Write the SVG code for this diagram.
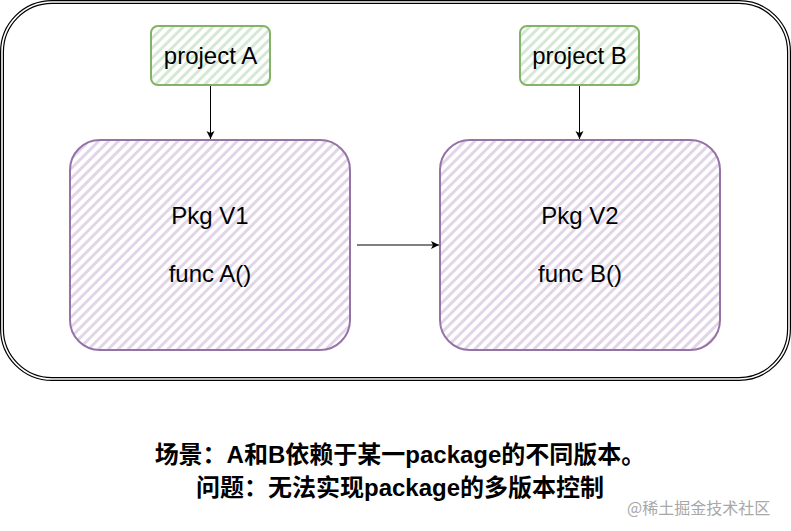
<svg xmlns="http://www.w3.org/2000/svg" width="791" height="531" viewBox="0 0 791 531">
<style>
.lbl{font-family:"Liberation Sans",Arial,sans-serif;font-size:24px;fill:#000;text-anchor:middle}
.cap{font-family:"Liberation Sans","Noto Sans CJK SC",sans-serif;font-size:24px;font-weight:bold;fill:#000;text-anchor:middle}
.wm{font-family:"Noto Sans CJK SC",sans-serif;font-size:16px;fill:#a8a8a8}
.conn{stroke:#000;stroke-width:1;fill:none}
</style>
<defs>
<pattern id="hg" width="7" height="7" patternUnits="userSpaceOnUse" patternTransform="rotate(-45)">
<rect width="7" height="7" fill="#fff"/>
<rect width="7" height="3" fill="#d5e8d4"/>
</pattern>
<pattern id="hp" width="7" height="7" patternUnits="userSpaceOnUse" patternTransform="rotate(-45)">
<rect width="7" height="7" fill="#fff"/>
<rect width="7" height="3" fill="#e1d5e7"/>
</pattern>
<marker id="ar" markerWidth="10" markerHeight="10" refX="9" refY="5" orient="auto" markerUnits="userSpaceOnUse">
<path d="M1,1 L9,5 L1,9 L3,5 Z" fill="#000"/>
</marker>
</defs>
<rect width="791" height="531" fill="#fff"/>
<g id="container">
<rect x="2" y="2" width="787" height="377" rx="50" fill="none" stroke="#000" stroke-width="4"/>
<rect x="2" y="2" width="787" height="377" rx="50" fill="none" stroke="#fff" stroke-width="1.6"/>
</g>
<g id="projectA">
<rect x="151" y="26" width="119" height="59" rx="7" fill="url(#hg)" stroke="#82b366" stroke-width="2"/>
<text class="lbl" x="210.5" y="64">project A</text>
</g>
<g id="projectB">
<rect x="520" y="26" width="119" height="59" rx="7" fill="url(#hg)" stroke="#82b366" stroke-width="2"/>
<text class="lbl" x="579.5" y="64">project B</text>
</g>
<g id="pkgV1">
<rect x="70" y="140" width="280" height="210" rx="30" fill="url(#hp)" stroke="#9673a6" stroke-width="2"/>
<text class="lbl" x="210" y="224">Pkg V1</text>
<text class="lbl" x="210" y="282">func A()</text>
</g>
<g id="pkgV2">
<rect x="440" y="140" width="280" height="210" rx="30" fill="url(#hp)" stroke="#9673a6" stroke-width="2"/>
<text class="lbl" x="580" y="224">Pkg V2</text>
<text class="lbl" x="580" y="282">func B()</text>
</g>
<g id="connectors">
<line class="conn" x1="210.5" y1="86" x2="210.5" y2="139" marker-end="url(#ar)"/>
<line class="conn" x1="579.5" y1="86" x2="579.5" y2="139" marker-end="url(#ar)"/>
<line class="conn" x1="357" y1="245" x2="439" y2="245" marker-end="url(#ar)"/>
</g>
<g id="caption">
<text class="cap" x="400" y="463">场景：A和B依赖于某一package的不同版本。</text>
<text class="cap" x="400" y="496">问题：无法实现package的多版本控制</text>
</g>
<text class="wm" x="627" y="514">@稀土掘金技术社区</text>
</svg>
